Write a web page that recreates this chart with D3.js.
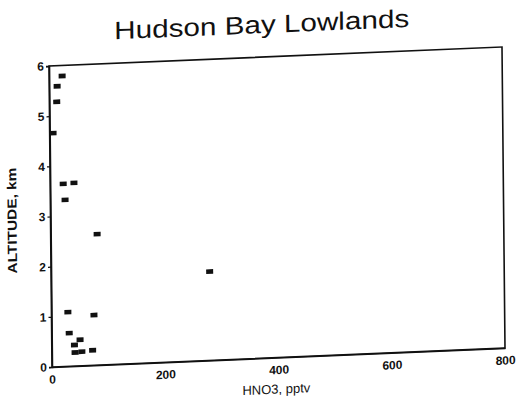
<!DOCTYPE html>
<html>
<head>
<meta charset="utf-8">
<script src="https://cdn.jsdelivr.net/npm/d3@7"></script>
<style>
  html, body { margin: 0; padding: 0; background: #fff; }
  svg { display: block; }
  text { font-family: "Liberation Sans", Arial, Helvetica, sans-serif; fill: #111; }
</style>
</head>
<body>
<svg id="chart" width="520" height="404"></svg>
<script>
// HNO3 mixing ratio (pptv) against altitude (km)
const hno3 = [23, 14, 13, 6, 23, 42, 26, 82, 280, 29, 75, 31, 50, 40, 41, 53, 72];
const altitude = [5.79, 5.59, 5.28, 4.66, 3.64, 3.65, 3.32, 2.61, 1.77, 1.08, 1.0, 0.66, 0.52, 0.42, 0.27, 0.28, 0.30];
const xTicks = [0, 200, 400, 600, 800];
const yTicks = [0, 1, 2, 3, 4, 5, 6];

const title = "Hudson Bay Lowlands";
const xLabel = "HNO3, pptv";
const yLabel = "ALTITUDE, km";

const margin = { left: 52, top: 66, right: 15, bottom: 37 };
const width = 520 - margin.left - margin.right;   // 453
const height = 404 - margin.top - margin.bottom;  // 301

const svg = d3.select("#chart");

// the printed page sits slightly askew: tilt the whole drawing
const root = svg.append("g")
  .attr("transform", "matrix(1,-0.0419,0.00997,1,-3.66,2.18)");

const x = d3.scaleLinear().domain([0, 800]).range([0, width]);
const y = d3.scaleLinear().domain([0, 6]).range([height, 0]);

const g = root.append("g").attr("transform", `translate(${margin.left},${margin.top})`);

// frame
g.append("rect")
  .attr("x", 0).attr("y", 0)
  .attr("width", width).attr("height", height)
  .attr("fill", "none")
  .attr("stroke", "#111")
  .attr("stroke-width", 1.6);

const xAxis = g.append("g")
  .attr("transform", `translate(0,${height})`)
  .call(d3.axisBottom(x).tickValues(xTicks).tickSize(0).tickPadding(8).tickFormat(d3.format("d")));

const yAxis = g.append("g")
  .call(d3.axisLeft(y).tickValues(yTicks).tickSize(3).tickPadding(2).tickFormat(d3.format("d")));

[xAxis, yAxis].forEach(a => {
  a.select(".domain").attr("stroke", "#111").attr("stroke-width", 1.6);
  a.selectAll(".tick line").attr("stroke", "#111").attr("stroke-width", 1.2);
  a.selectAll(".tick text")
    .attr("fill", "#111")
    .style("font-size", "12px")
    .style("font-weight", "bold");
});

// data markers: small filled bars
g.selectAll("rect.pt")
  .data(hno3.map((v, i) => ({ v, a: altitude[i] })))
  .join("rect")
  .attr("class", "pt")
  .attr("x", d => x(d.v) - 3.5)
  .attr("y", d => y(d.a) - 2.3)
  .attr("width", 7)
  .attr("height", 4.6)
  .attr("fill", "#111");

// title
root.append("text")
  .attr("x", 265)
  .attr("y", 42)
  .attr("text-anchor", "middle")
  .attr("textLength", 295)
  .attr("lengthAdjust", "spacingAndGlyphs")
  .style("font-size", "25px")
  .text(title);

// axis titles
root.append("text")
  .attr("x", 276)
  .attr("y", 403)
  .attr("text-anchor", "middle")
  .style("font-size", "13px")
  .text(xLabel);

root.append("text")
  .attr("transform", "translate(18,219) rotate(-90)")
  .attr("text-anchor", "middle")
  .attr("textLength", 106)
  .attr("lengthAdjust", "spacingAndGlyphs")
  .style("font-size", "13px")
  .style("font-weight", "bold")
  .text(yLabel);
</script>
</body>
</html>
